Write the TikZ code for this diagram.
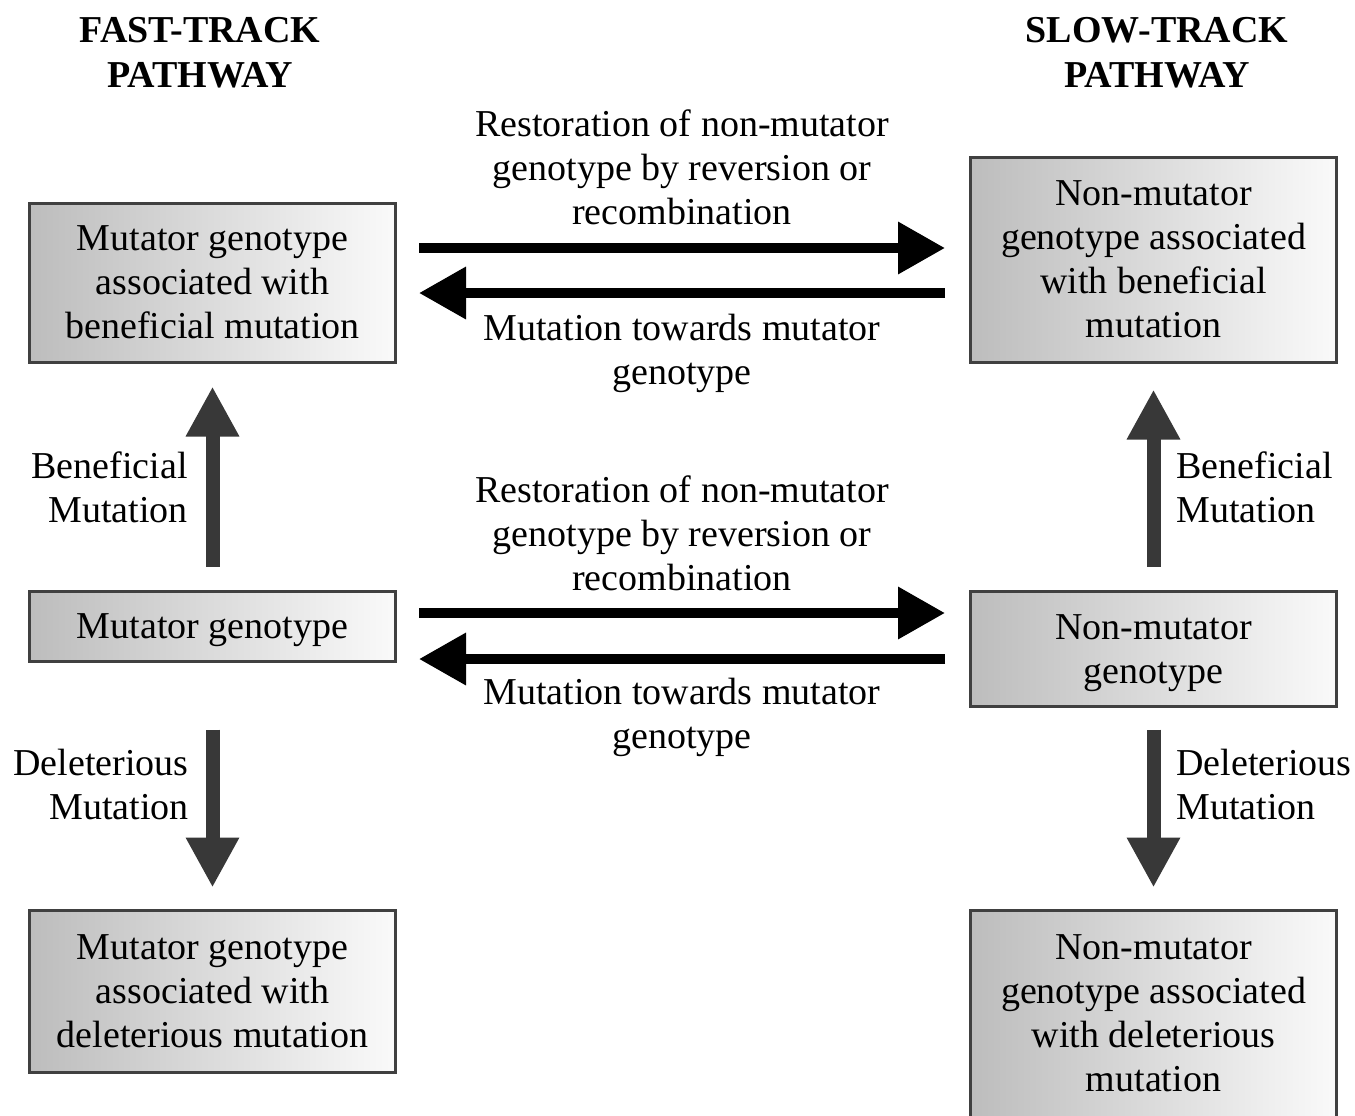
\documentclass[tikz,border=0pt]{standalone}
\usepackage{fontspec}
\setmainfont{Liberation Serif}
\usetikzlibrary{arrows.meta,calc}
\definecolor{vgray}{HTML}{383838}
\tikzset{
  gbox/.style={draw=black!75, line width=1.5pt, left color=black!26, right color=black!2,
    minimum width=183pt, align=center, inner sep=0pt, font=\fontsize{19pt}{22pt}\selectfont},
  lbl/.style={inner sep=0pt, font=\fontsize{19pt}{22pt}\selectfont},
  ttl/.style={inner sep=0pt, align=center, font=\bfseries\fontsize{19pt}{22.5pt}\selectfont},
  harrow/.style={line width=5pt, black, -{Triangle[length=23.5pt,width=25pt]}},
  varrow/.style={line width=7pt, vgray, -{Triangle[length=25pt,width=25pt]}}
}
\begin{document}
\begin{tikzpicture}[x=0.5pt,y=-0.5pt]
\useasboundingbox (0,0) rectangle (1355,1115);
% titles
\node[ttl] (t1) at (200,53) {FAST-TRACK\\PATHWAY};
\node[ttl] (t2) at (1157,53) {SLOW-TRACK\\PATHWAY};
% boxes
\node[gbox, minimum height=79.5pt] (tl) at (212.5,282.5) {Mutator genotype\\associated with\\beneficial mutation};
\node[gbox, minimum height=35pt] (ml) at (212.5,626) {\raisebox{-2.25pt}[\height][\depth]{Mutator genotype}};
\node[gbox, minimum height=81pt] (bl) at (212.5,991) {Mutator genotype\\associated with\\deleterious mutation};
\node[gbox, minimum height=102.5pt] (tr) at (1153.5,259.5) {Non-mutator\\genotype associated\\with beneficial\\mutation};
\node[gbox, minimum height=57.5pt] (mr) at (1153.5,648.5) {\raisebox{-2.25pt}[\height][\depth]{\begin{tabular}{@{}c@{}}Non-mutator\\genotype\end{tabular}}};
\node[gbox, minimum height=104pt] (br) at (1153.5,1014) {\raisebox{-1.25pt}[\height][\depth]{\begin{tabular}{@{}c@{}}Non-mutator\\genotype associated\\with deleterious\\mutation\end{tabular}}};
% middle labels
\node[lbl, align=center] (r1) at (682,167) {Restoration of non-mutator\\genotype by reversion or\\recombination};
\node[lbl, align=center] (m1) at (682,353) {Mutation towards mutator\\genotype};
\node[lbl, align=center] (r2) at (682,533) {Restoration of non-mutator\\genotype by reversion or\\recombination};
\node[lbl, align=center] (m2) at (682,717) {Mutation towards mutator\\genotype};
% side labels
\node[lbl, align=right, anchor=east] (bL) at (188,487) {Beneficial\\Mutation};
\node[lbl, align=right, anchor=east] (dL) at (189,784) {Deleterious\\Mutation};
\node[lbl, align=left, anchor=west] (bR) at (1176,487) {Beneficial\\Mutation};
\node[lbl, align=left, anchor=west] (dR) at (1176,784) {Deleterious\\Mutation};
% horizontal arrows
\draw[harrow] ($(tl.east|-0,248)+(22,0)$) -- ($(tr.west|-0,248)+(-24,0)$);
\draw[harrow] ($(tr.west|-0,293)+(-24,0)$) -- ($(tl.east|-0,293)+(22,0)$);
\draw[harrow] ($(ml.east|-0,613)+(22,0)$) -- ($(mr.west|-0,613)+(-24,0)$);
\draw[harrow] ($(mr.west|-0,659)+(-24,0)$) -- ($(ml.east|-0,659)+(22,0)$);
% vertical arrows
\draw[varrow] ($(ml.north)+(0,-23)$) -- ($(tl.south)+(0,23)$);
\draw[varrow] ($(ml.south)+(0,67)$) -- ($(bl.north)+(0,-21)$);
\draw[varrow] ($(mr.north)+(0,-23)$) -- ($(tr.south)+(0,26)$);
\draw[varrow] ($(mr.south)+(0,22)$) -- ($(br.north)+(0,-21)$);
\end{tikzpicture}
\end{document}
